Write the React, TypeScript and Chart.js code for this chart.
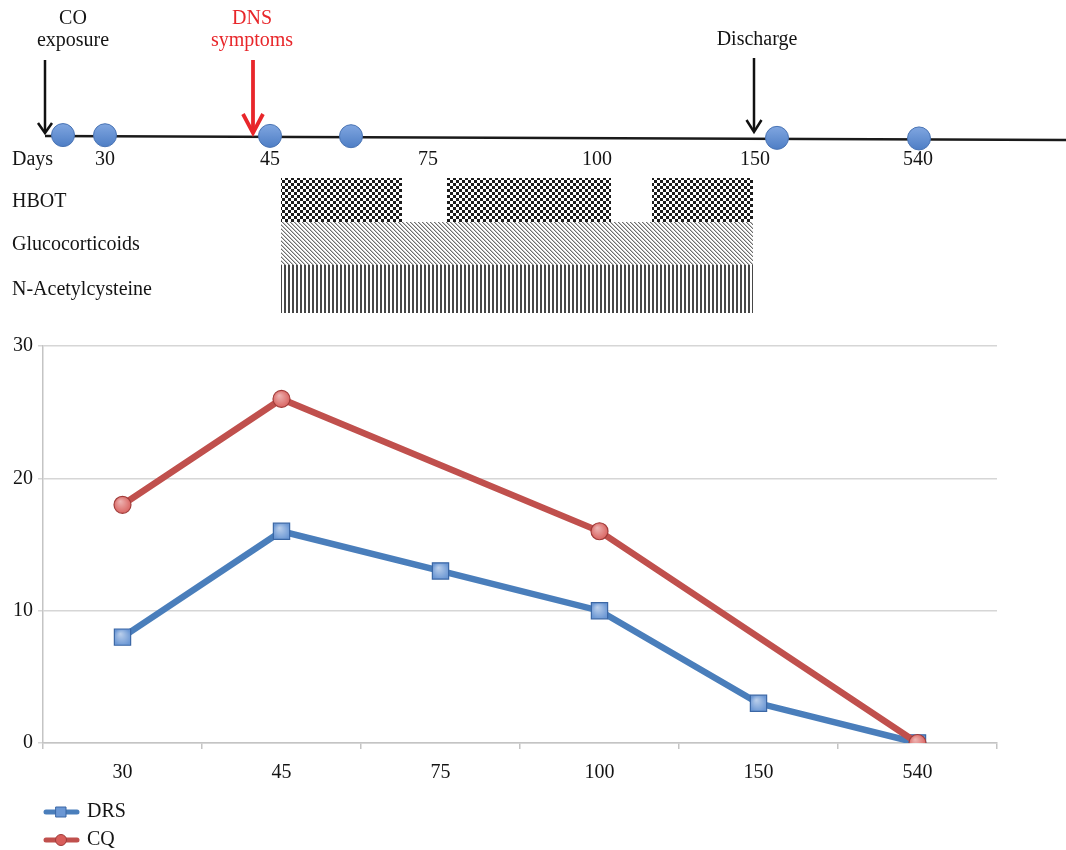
import React, { useEffect, useRef } from 'react';
import { Chart, registerables } from 'chart.js';

Chart.register(...registerables);

const FONT = "'Liberation Serif', 'Times New Roman', serif";

// ---- chart data ----
const categories = ['30', '45', '75', '100', '150', '540'];
const drsValues: (number | null)[] = [8, 16, 13, 10, 3, 0];
const cqValues: (number | null)[] = [18, 26, null, 16, null, 0];
const seriesNames = ['DRS', 'CQ'];
const seriesColors = ['#4a7ebb', '#c0504d'];
const yMin = 0;
const yMax = 30;
const yStep = 10;

// ---- timeline diagram content ----
const timelineDayLabels = ['Days', '30', '45', '75', '100', '150', '540'];
const eventLabels = [['CO', 'exposure'], ['DNS', 'symptoms'], ['Discharge']];
const treatmentNames = ['HBOT', 'Glucocorticoids', 'N-Acetylcysteine'];

function makePattern(ctx: CanvasRenderingContext2D, kind: string): CanvasPattern | string {
  const c = document.createElement('canvas');
  const g = c.getContext('2d');
  if (!g) return '#888';
  if (kind === 'checker') {
    c.width = 6; c.height = 6;
    g.fillStyle = '#ffffff'; g.fillRect(0, 0, 6, 6);
    g.fillStyle = '#1c1c1c';
    g.fillRect(0, 0, 3, 3);
    g.fillRect(3, 3, 3, 3);
  } else if (kind === 'diag') {
    c.width = 4; c.height = 4;
    g.fillStyle = '#ffffff'; g.fillRect(0, 0, 4, 4);
    for (let i = 0; i < 4; i++) {
      g.fillStyle = '#6e6e6e';
      g.fillRect(i, i, 1, 1);
      g.fillStyle = '#c2c2c2';
      g.fillRect((i + 1) % 4, i, 1, 1);
    }
  } else {
    c.width = 4; c.height = 2;
    g.fillStyle = '#ffffff'; g.fillRect(0, 0, 4, 2);
    g.fillStyle = '#474747';
    g.fillRect(0, 0, 2, 2);
  }
  return ctx.createPattern(c, 'repeat') || '#888';
}

function drawArrow(ctx: CanvasRenderingContext2D, x: number, top: number, tip: number, color: string, half: number, head: number, width: number) {
  ctx.save();
  ctx.strokeStyle = color;
  ctx.lineWidth = width;
  ctx.lineCap = 'butt';
  ctx.beginPath();
  ctx.moveTo(x, top);
  ctx.lineTo(x, tip - 1);
  ctx.stroke();
  ctx.lineJoin = 'miter';
  ctx.beginPath();
  ctx.moveTo(x - half, tip - head);
  ctx.lineTo(x, tip);
  ctx.lineTo(x + half, tip - head);
  ctx.stroke();
  ctx.restore();
}

const timelinePlugin = {
  id: 'timeline',
  beforeDraw(chart: any) {
    const ctx: CanvasRenderingContext2D = chart.ctx;
    ctx.save();
    ctx.fillStyle = '#ffffff';
    ctx.fillRect(0, 0, chart.width, chart.height);

    // timeline axis
    const lx0 = 45, ly0 = 136, lx1 = 1066, ly1 = 140;
    ctx.strokeStyle = '#1a1a1a';
    ctx.lineWidth = 2.5;
    ctx.beginPath();
    ctx.moveTo(lx0, ly0);
    ctx.lineTo(lx1, ly1);
    ctx.stroke();

    const lineY = (x: number) => ly0 + ((x - lx0) / (lx1 - lx0)) * (ly1 - ly0) - 1;

    // arrows
    drawArrow(ctx, 45, 60, 133, '#111111', 7, 10, 2.5);
    drawArrow(ctx, 253, 60, 133, '#e8262a', 10, 19, 3.8);
    drawArrow(ctx, 754, 58, 132, '#111111', 7.5, 12, 2.5);

    // visit dots
    const dotX = [63, 105, 270, 351, 777, 919];
    dotX.forEach((x) => {
      const y = lineY(x);
      const r = 11.5;
      const grad = ctx.createLinearGradient(0, y - r, 0, y + r);
      grad.addColorStop(0, '#80a6e0');
      grad.addColorStop(1, '#4e7ec5');
      ctx.beginPath();
      ctx.arc(x, y, r, 0, Math.PI * 2);
      ctx.fillStyle = grad;
      ctx.fill();
      ctx.lineWidth = 1;
      ctx.strokeStyle = '#4a74b4';
      ctx.stroke();
    });

    // text
    ctx.font = `20px ${FONT}`;
    ctx.textBaseline = 'middle';
    ctx.fillStyle = '#141414';
    const dayX = [12, 105, 270, 428, 597, 755, 918];
    timelineDayLabels.forEach((t, i) => {
      ctx.textAlign = i === 0 ? 'left' : 'center';
      ctx.fillText(t, dayX[i], 160);
    });

    ctx.textAlign = 'center';
    const evX = [73, 252, 757];
    const evColors = ['#141414', '#e8262a', '#141414'];
    eventLabels.forEach((lines, i) => {
      ctx.fillStyle = evColors[i];
      if (lines.length === 2) {
        ctx.fillText(lines[0], evX[i], 19);
        ctx.fillText(lines[1], evX[i], 41);
      } else {
        ctx.fillText(lines[0], evX[i], 40);
      }
    });

    // treatments
    ctx.fillStyle = '#141414';
    ctx.textAlign = 'left';
    const rowY = [202, 245, 290];
    treatmentNames.forEach((t, i) => ctx.fillText(t, 12, rowY[i]));

    const checker = makePattern(ctx, 'checker');
    const diag = makePattern(ctx, 'diag');
    const vert = makePattern(ctx, 'vert');
    ctx.fillStyle = checker;
    [[281, 402], [447, 611], [652, 753]].forEach(([a, b]) => ctx.fillRect(a, 178, b - a, 44));
    ctx.fillStyle = diag;
    ctx.fillRect(281, 222, 472, 43);
    ctx.fillStyle = vert;
    ctx.fillRect(281, 265, 472, 48);

    ctx.restore();
  },
};

const pointShinePlugin = {
  id: 'pointShine',
  afterDatasetDraw(chart: any, args: any) {
    const ctx: CanvasRenderingContext2D = chart.ctx;
    const meta = args.meta;
    const ds = chart.data.datasets[args.index];
    meta.data.forEach((pt: any, i: number) => {
      if (ds.data[i] === null || ds.data[i] === undefined) return;
      const x = pt.x, y = pt.y;
      const r = ds.pointStyle === 'rect' ? 7.5 : 8;
      ctx.save();
      ctx.beginPath();
      if (ds.pointStyle === 'rect') ctx.rect(x - r, y - r, 2 * r, 2 * r);
      else ctx.arc(x, y, r, 0, Math.PI * 2);
      ctx.clip();
      const g = ctx.createRadialGradient(x - r * 0.3, y - r * 0.45, 0, x, y, r * 1.2);
      g.addColorStop(0, 'rgba(255,255,255,0.55)');
      g.addColorStop(1, 'rgba(255,255,255,0)');
      ctx.fillStyle = g;
      ctx.fillRect(x - r, y - r, 2 * r, 2 * r);
      ctx.restore();
    });
  },
};

const legendPlugin = {
  id: 'customLegend',
  afterDraw(chart: any) {
    const ctx: CanvasRenderingContext2D = chart.ctx;
    const ys = [812, 840];
    ctx.save();
    chart.data.datasets.forEach((ds: any, i: number) => {
      const y = ys[i];
      ctx.strokeStyle = ds.borderColor;
      ctx.lineWidth = 5;
      ctx.lineCap = 'round';
      ctx.beginPath();
      ctx.moveTo(46, y);
      ctx.lineTo(77, y);
      ctx.stroke();
      ctx.fillStyle = ds.pointBackgroundColor;
      ctx.strokeStyle = ds.pointBorderColor;
      ctx.lineWidth = 1;
      ctx.beginPath();
      if (ds.pointStyle === 'rect') ctx.rect(56, y - 5, 10, 10);
      else ctx.arc(61, y, 5.5, 0, Math.PI * 2);
      ctx.fill();
      ctx.stroke();
      ctx.fillStyle = '#141414';
      ctx.font = `20px ${FONT}`;
      ctx.textBaseline = 'middle';
      ctx.textAlign = 'left';
      ctx.fillText(ds.label, 87, y);
    });
    ctx.restore();
  },
};

export default function App() {
  const canvasRef = useRef<HTMLCanvasElement | null>(null);

  useEffect(() => {
    if (!canvasRef.current) return;
    const chart = new Chart(canvasRef.current, {
      type: 'line',
      data: {
        labels: categories,
        datasets: [
          {
            label: seriesNames[0],
            data: drsValues,
            borderColor: seriesColors[0],
            borderWidth: 6.5,
            pointStyle: 'rect',
            pointRadius: 11.5,
            pointBackgroundColor: '#6b97d4',
            pointBorderColor: '#3b67a5',
            pointBorderWidth: 1.2,
            tension: 0,
            order: 2,
          } as any,
          {
            label: seriesNames[1],
            data: cqValues,
            borderColor: seriesColors[1],
            borderWidth: 6.5,
            pointStyle: 'circle',
            pointRadius: 8.5,
            pointBackgroundColor: '#d85e5b',
            pointBorderColor: '#a13c3a',
            pointBorderWidth: 1.2,
            spanGaps: true,
            tension: 0,
            order: 1,
          } as any,
        ],
      },
      options: {
        animation: false,
        responsive: false,
        devicePixelRatio: 1,
        layout: { padding: { top: 346, right: 69, left: 0, bottom: 0 } },
        plugins: {
          legend: { display: false },
          tooltip: { enabled: false },
        },
        scales: {
          x: {
            offset: true,
            grid: {
              offset: true,
              drawOnChartArea: false,
              drawTicks: true,
              tickLength: 6,
              color: '#c4c4c4',
              lineWidth: 1.5,
            },
            border: { color: '#c4c4c4', width: 1.5 },
            ticks: {
              font: { family: FONT, size: 20 },
              color: '#141414',
              padding: 12,
              maxRotation: 0,
            },
            afterFit: (s: any) => { s.height = 107; },
          },
          y: {
            min: yMin,
            max: yMax,
            ticks: {
              stepSize: yStep,
              font: { family: FONT, size: 20 },
              color: '#141414',
              padding: 5,
            },
            grid: { color: '#d6d6d6', lineWidth: 1.5, tickLength: 5 },
            border: { color: '#c4c4c4', width: 1.5 },
            afterFit: (s: any) => { s.width = 43; },
          },
        },
      } as any,
      plugins: [timelinePlugin, pointShinePlugin, legendPlugin],
    });
    return () => chart.destroy();
  }, []);

  return (
    <div style={{ position: 'absolute', left: 0, top: 0, width: 1066, height: 850, background: '#fff' }}>
      <canvas ref={canvasRef} width={1066} height={850} style={{ display: 'block', width: 1066, height: 850 }} />
    </div>
  );
}
